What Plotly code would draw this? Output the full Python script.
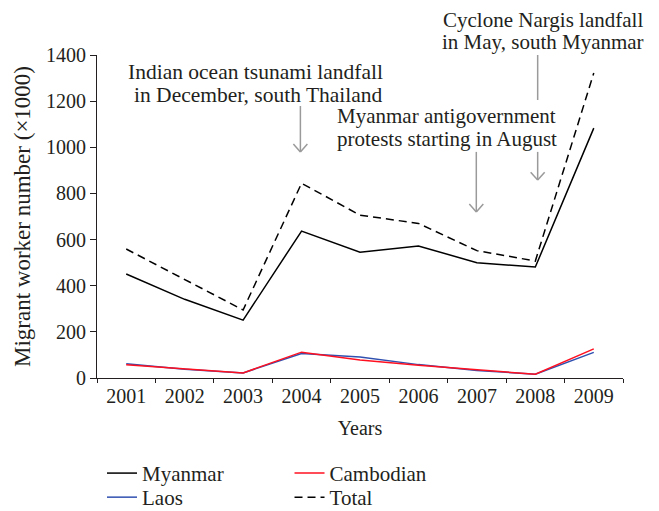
import plotly.graph_objects as go

years = ["2001", "2002", "2003", "2004", "2005", "2006", "2007", "2008", "2009"]
myanmar = [451, 341, 251, 637, 545, 572, 500, 481, 1083]
laos = [62, 38, 22, 106, 91, 58, 33, 16, 111]
cambodian = [57, 39, 22, 112, 78, 55, 35, 16, 126]
total = [559, 428, 295, 844, 706, 670, 552, 507, 1322]

FONT = "Liberation Serif"
TXT = "#231f20"
fig = go.Figure()
fig.add_trace(go.Scatter(x=years, y=myanmar, mode="lines", name="Myanmar",
                         line=dict(color="black", width=1.5), legend="legend"))
fig.add_trace(go.Scatter(x=years, y=laos, mode="lines", name="Laos",
                         line=dict(color="#3050b0", width=1.5), legend="legend3"))
fig.add_trace(go.Scatter(x=years, y=cambodian, mode="lines", name="Cambodian",
                         line=dict(color="#ff1020", width=1.5), legend="legend2"))
fig.add_trace(go.Scatter(x=years, y=total, mode="lines", name="Total",
                         line=dict(color="black", width=1.5, dash="8px,5px"), legend="legend4"))

gray = "#9a9a9a"
def arrow(x, y0, y1, head=True):
    fig.add_shape(type="line", xref="x", yref="y", x0=x, x1=x, y0=y0, y1=y1,
                  line=dict(color=gray, width=1.5))
    if head:
        for dx in (-0.12, 0.12):
            fig.add_shape(type="line", xref="x", yref="y", x0=x + dx, x1=x,
                          y0=y1 + 34, y1=y1, line=dict(color=gray, width=1.5))

arrow(2.98, 1179, 980)
arrow(7.04, 1400, 1205, head=False)
arrow(7.04, 980, 858)
arrow(5.99, 980, 720)

def label(text, x, y, xanchor="center", size=21.5):
    fig.add_annotation(x=x, y=y, xref="x", yref="paper", showarrow=False,
                       text=text, xanchor=xanchor, yanchor="middle",
                       font=dict(family=FONT, size=size, color=TXT))

label("Indian ocean tsunami landfall", 4.425, 0.947, xanchor="right")
label("in December, south Thailand", 4.425, 0.876, xanchor="right")
label("Cyclone Nargis landfall", 7.128, 1.108, size=21)
label("in May, south Myanmar", 7.128, 1.040, size=21)
label("Myanmar antigovernment", 5.485, 0.812, size=21)
label("protests starting in August", 5.485, 0.741, size=21)

leg = dict(xanchor="left", yanchor="top", orientation="v",
           font=dict(family=FONT, size=21, color=TXT), bgcolor="rgba(0,0,0,0)")
fig.update_layout(
    width=651, height=503,
    margin=dict(l=89, r=36, t=47, b=133, autoexpand=False),
    paper_bgcolor="white", plot_bgcolor="white",
    font=dict(family=FONT, size=20, color=TXT),
    showlegend=True,
    legend=dict(x=0.0095, y=-0.232, **leg),
    legend2=dict(x=0.366, y=-0.232, **leg),
    legend3=dict(x=0.0095, y=-0.3065, **leg),
    legend4=dict(x=0.366, y=-0.3065, **leg),
    xaxis=dict(type="category", range=[-0.5, 8.5], tickson="boundaries",
               ticks="outside", ticklen=4, tickcolor=TXT, showline=True,
               linecolor=TXT, linewidth=1.2, showgrid=False, zeroline=False,
               title=dict(text="Years", standoff=14, font=dict(size=20)),
               tickfont=dict(size=20)),
    yaxis=dict(range=[0, 1400], tickvals=[0, 200, 400, 600, 800, 1000, 1200, 1400],
               ticks="outside", ticklen=6, tickcolor=TXT, showline=True,
               linecolor=TXT, linewidth=1.2, showgrid=False, zeroline=False,
               title=dict(text="Migrant worker number (×1000)", standoff=8, font=dict(size=23)),
               tickfont=dict(size=20)),
)

fig.write_html("out.html")
